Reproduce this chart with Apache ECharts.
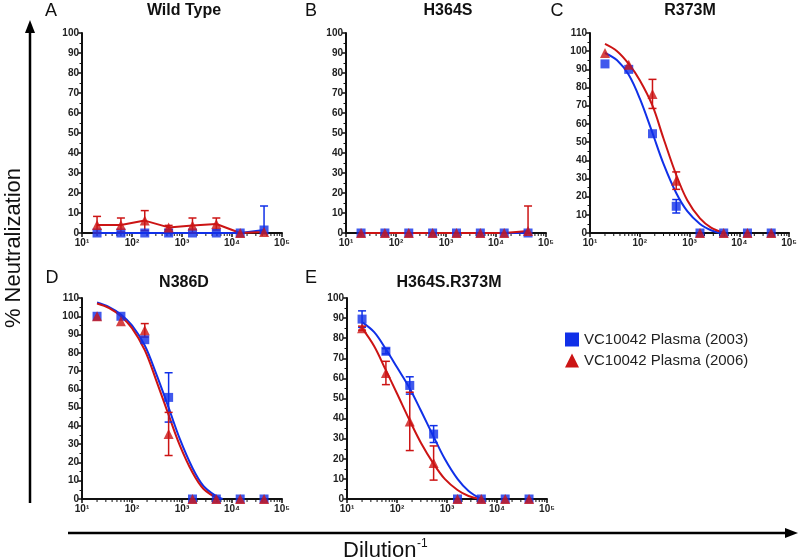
<!DOCTYPE html>
<html><head><meta charset="utf-8">
<script src="https://cdn.jsdelivr.net/npm/echarts@6/dist/echarts.min.js"></script>
<style>html,body{margin:0;padding:0;background:#fff}#c{width:800px;height:560px}</style>
</head><body><div id="c"></div>
<script>
// ---------- DATA ----------
const dilutions = [20, 60, 180, 540, 1620, 4860, 14580, 43740];
const seriesNames = ['VC10042 Plasma (2003)', 'VC10042 Plasma (2006)'];
const panelTitles = ['Wild Type', 'H364S', 'R373M', 'N386D', 'H364S.R373M'];
const panelLetters = ['A', 'B', 'C', 'D', 'E'];
const panelYMax = [100, 100, 110, 110, 100];
const xTickLabels = {10: '10¹', 100: '10²', 1000: '10³', 10000: '10⁴', 100000: '10⁵'};
const xMinorTicks = [20, 30, 40, 50, 60, 70, 80, 90,
  200, 300, 400, 500, 600, 700, 800, 900,
  2000, 3000, 4000, 5000, 6000, 7000, 8000, 9000,
  20000, 30000, 40000, 50000, 60000, 70000, 80000, 90000];

// Wild Type
const wt2003 = [0, 0, 0, 0, 0, 0, 0, 1.5];
const wt2003Err = [0, 0, 0, 0, 0, 0, 0, 12];
const wt2006 = [4, 4, 6.2, 2.8, 3.8, 4.5, 0, 0.5];
const wt2006Err = [4.3, 3.5, 5, 1, 3.7, 3, 0, 0];
// H364S
const h364s2003 = [0, 0, 0, 0, 0, 0, 0, 0];
const h364s2003Err = [0, 0, 0, 0, 0, 0, 0, 0];
const h364s2006 = [0, 0, 0, 0, 0, 0, 0, 1];
const h364s2006Err = [0, 0, 0, 0, 0, 0, 0, 12.5];
// R373M
const r373m2003 = [93, 90, 54.6, 14.7, 0, 0, 0, 0];
const r373m2003Err = [0, 0, 0, 3.7, 0, 0, 0, 0];
const r373m2006 = [99, 92.6, 76.5, 28.8, 0, 0, 0, 0];
const r373m2006Err = [0, 0, 8, 4.8, 0, 0, 0, 0];
// N386D
const n386d2003 = [100, 100, 87.2, 55.6, 0, 0, 0, 0];
const n386d2003Err = [0, 0, 0, 13.5, 0, 0, 0, 0];
const n386d2006 = [100, 97.3, 92.3, 35.6, 0, 0, 0, 0];
const n386d2006Err = [0, 0, 3.7, 11.8, 0, 0, 0, 0];
// H364S.R373M
const dbl2003 = [89.5, 73.5, 56.5, 32.3, 0, 0, 0, 0];
const dbl2003Err = [4.1, 1.3, 4.3, 4.2, 0, 0, 0, 0];
const dbl2006 = [85, 62.7, 38.6, 17.9, 0, 0, 0, 0];
const dbl2006Err = [1, 5.8, 14.5, 8.5, 0, 0, 0, 0];

// Fitted curves
const r373mFit2003X = [20, 35, 60, 100, 180, 300, 540, 900, 1620, 2700, 4000];
const r373mFit2003Y = [99, 95, 87, 74, 55, 38, 22, 12, 5, 1.5, 0];
const r373mFit2006X = [20, 35, 60, 100, 180, 300, 540, 900, 1620, 2700, 5000];
const r373mFit2006Y = [104, 100, 93, 84, 70, 52, 32, 18, 8, 3, 0];
const n386dFit2003X = [20, 35, 60, 100, 180, 300, 540, 900, 1620, 2700, 4860, 6500];
const n386dFit2003Y = [107.5, 105, 101, 95, 84, 69, 50, 33, 17, 7, 1.5, 0];
const n386dFit2006X = [20, 35, 60, 100, 180, 300, 540, 900, 1620, 2700, 5400];
const n386dFit2006Y = [107, 104.5, 100, 93.5, 81.5, 65.5, 46, 29.5, 14.5, 5.5, 0];
const dblFit2003X = [20, 35, 60, 100, 180, 300, 540, 900, 1620, 2700, 4860];
const dblFit2003Y = [88, 83, 74.5, 65.5, 55, 44, 31, 20, 10, 4, 0];
const dblFit2006X = [20, 35, 60, 100, 180, 300, 540, 900, 1620, 2700, 4500];
const dblFit2006Y = [85, 76, 64, 52.5, 39, 28, 17.5, 10, 4.5, 1.5, 0];

const panelData = [
  {b: wt2003, be: wt2003Err, r: wt2006, re: wt2006Err, fit: null},
  {b: h364s2003, be: h364s2003Err, r: h364s2006, re: h364s2006Err, fit: null},
  {b: r373m2003, be: r373m2003Err, r: r373m2006, re: r373m2006Err,
   fit: [[r373mFit2003X, r373mFit2003Y], [r373mFit2006X, r373mFit2006Y]]},
  {b: n386d2003, be: n386d2003Err, r: n386d2006, re: n386d2006Err,
   fit: [[n386dFit2003X, n386dFit2003Y], [n386dFit2006X, n386dFit2006Y]]},
  {b: dbl2003, be: dbl2003Err, r: dbl2006, re: dbl2006Err,
   fit: [[dblFit2003X, dblFit2003Y], [dblFit2006X, dblFit2006Y]]}
];

// ---------- LAYOUT / STYLE ----------
const BLUE = '#1030e8', RED = '#cc1414';
const layout = [
  {left: 82, top: 33, width: 200, height: 200, tx: 184, ty: 11, lx: 51, ly: 11},
  {left: 346, top: 33, width: 200, height: 200, tx: 448, ty: 11, lx: 311, ly: 11},
  {left: 590, top: 33, width: 200, height: 200, tx: 690, ty: 11, lx: 557, ly: 11},
  {left: 82, top: 298, width: 200, height: 201, tx: 184, ty: 283, lx: 52, ly: 278},
  {left: 347, top: 298, width: 200, height: 201, tx: 449, ty: 283, lx: 311, ly: 278}
];
const FONT = '"Liberation Sans", Arial, sans-serif';

const grids = [], xAxes = [], yAxes = [], series = [], graphics = [];
layout.forEach((L, i) => {
  grids.push({left: L.left, top: L.top, width: L.width, height: L.height, containLabel: false});
  xAxes.push({
    type: 'log', logBase: 10, min: 10, max: 100000, gridIndex: i,
    axisLine: {show: true, onZero: false, lineStyle: {color: '#111', width: 2}},
    axisTick: {show: true, length: 4, lineStyle: {color: '#111', width: 1.5}},
    minorTick: {show: false},
    splitLine: {show: false},
    axisLabel: {fontFamily: FONT, fontWeight: 'bold', fontSize: 10, color: '#222', margin: 5,
      formatter: v => xTickLabels[Math.round(v)] || ''}
  });
  yAxes.push({
    type: 'value', min: 0, max: panelYMax[i], interval: 10, gridIndex: i,
    axisLine: {show: true, lineStyle: {color: '#111', width: 2}},
    axisTick: {show: true, length: 4, lineStyle: {color: '#111', width: 1.5}},
    minorTick: {show: true, splitNumber: 2, length: 2.5, lineStyle: {color: '#111', width: 1}},
    splitLine: {show: false},
    axisLabel: {fontFamily: FONT, fontWeight: 'bold', fontSize: 10, color: '#222', margin: 3}
  });
  const P = panelData[i];
  const pairs = (xs, ys) => xs.map((x, k) => [x, ys[k]]);
  // log minor ticks
  series.push({type: 'custom', xAxisIndex: i, yAxisIndex: i, silent: true, clip: false, z: 1,
    data: xMinorTicks.map(v => [v, 0]),
    renderItem: (params, api) => {
      const p = api.coord([api.value(0), 0]);
      return {type: 'line', shape: {x1: p[0], y1: p[1], x2: p[0], y2: p[1] + 3}, style: {stroke: '#111', lineWidth: 1}};
    }});
  if (P.fit) {
    series.push({type: 'line', name: seriesNames[0], xAxisIndex: i, yAxisIndex: i, data: pairs(P.fit[0][0], P.fit[0][1]),
      showSymbol: false, symbol: 'none', smooth: 0.35, lineStyle: {color: BLUE, width: 2}, itemStyle: {color: BLUE}, z: 2, silent: true});
    series.push({type: 'line', name: seriesNames[1], xAxisIndex: i, yAxisIndex: i, data: pairs(P.fit[1][0], P.fit[1][1]),
      showSymbol: false, symbol: 'none', smooth: 0.35, lineStyle: {color: RED, width: 2}, itemStyle: {color: RED}, z: 2, silent: true});
  } else {
    series.push({type: 'line', name: seriesNames[0], xAxisIndex: i, yAxisIndex: i, data: pairs(dilutions, P.b),
      showSymbol: false, symbol: 'none', lineStyle: {color: BLUE, width: 2}, itemStyle: {color: BLUE}, z: 2, silent: true});
    series.push({type: 'line', name: seriesNames[1], xAxisIndex: i, yAxisIndex: i, data: pairs(dilutions, P.r),
      showSymbol: false, symbol: 'none', lineStyle: {color: RED, width: 2}, itemStyle: {color: RED}, z: 2, silent: true});
  }
  const errSeries = (vals, errs, color) => ({
    type: 'custom', xAxisIndex: i, yAxisIndex: i, z: 3, silent: true, clip: false,
    data: dilutions.map((d, k) => [d, vals[k], errs[k]]),
    renderItem: (params, api) => {
      const x = api.value(0), y = api.value(1), e = api.value(2);
      if (!e) return null;
      const t = api.coord([x, y + e]), b = api.coord([x, Math.max(0, y - e)]);
      const hw = 4, st = {stroke: color, lineWidth: 1.5};
      return {type: 'group', children: [
        {type: 'line', shape: {x1: t[0], y1: t[1], x2: b[0], y2: b[1]}, style: st},
        {type: 'line', shape: {x1: t[0] - hw, y1: t[1], x2: t[0] + hw, y2: t[1]}, style: st},
        {type: 'line', shape: {x1: b[0] - hw, y1: b[1], x2: b[0] + hw, y2: b[1]}, style: st}
      ]};
    }
  });
  series.push(errSeries(P.b, P.be, BLUE));
  series.push(errSeries(P.r, P.re, RED));
  series.push({type: 'scatter', name: seriesNames[0], xAxisIndex: i, yAxisIndex: i, data: pairs(dilutions, P.b),
    symbol: 'rect', symbolSize: 9, itemStyle: {color: BLUE}, z: 4, silent: true});
  series.push({type: 'scatter', name: seriesNames[1], xAxisIndex: i, yAxisIndex: i, data: pairs(dilutions, P.r),
    symbol: 'triangle', symbolSize: 10, itemStyle: {color: RED}, z: 5, silent: true});

  graphics.push({type: 'text', x: L.tx, y: L.ty, style: {text: panelTitles[i], font: 'bold 16px ' + FONT, fill: '#111', textAlign: 'center', textVerticalAlign: 'middle'}});
  graphics.push({type: 'text', x: L.lx, y: L.ly, style: {text: panelLetters[i], font: '18px ' + FONT, fill: '#111', textAlign: 'center', textVerticalAlign: 'middle'}});
});

// Big axis arrows and titles
graphics.push({type: 'line', shape: {x1: 30, y1: 503, x2: 30, y2: 30}, style: {stroke: '#000', lineWidth: 2.5}});
graphics.push({type: 'polygon', shape: {points: [[30, 20], [25, 33], [35, 33]]}, style: {fill: '#000'}});
graphics.push({type: 'line', shape: {x1: 68, y1: 533, x2: 788, y2: 533}, style: {stroke: '#000', lineWidth: 2.5}});
graphics.push({type: 'polygon', shape: {points: [[798, 533], [785, 528], [785, 538]]}, style: {fill: '#000'}});
graphics.push({type: 'text', x: 14, y: 248, rotation: Math.PI / 2,
  style: {text: '% Neutralization', font: '22px ' + FONT, fill: '#111', textAlign: 'center', textVerticalAlign: 'middle'}});
graphics.push({type: 'text', x: 343, y: 551, style: {text: 'Dilution', font: '22px ' + FONT, fill: '#111', textAlign: 'left', textVerticalAlign: 'middle'}});
graphics.push({type: 'text', x: 417, y: 544, style: {text: '-1', font: '12px ' + FONT, fill: '#111', textAlign: 'left', textVerticalAlign: 'middle'}});

const chart = echarts.init(document.getElementById('c'), null, {renderer: 'canvas'});
chart.setOption({
  animation: false,
  backgroundColor: '#fff',
  grid: grids, xAxis: xAxes, yAxis: yAxes, series: series,
  legend: {
    orient: 'vertical', left: 560, top: 327, itemGap: 6, itemWidth: 14, itemHeight: 14,
    selectedMode: false,
    textStyle: {fontFamily: FONT, fontSize: 15, color: '#222'},
    data: [{name: seriesNames[0], icon: 'rect', itemStyle: {color: BLUE}}, {name: seriesNames[1], icon: 'triangle', itemStyle: {color: RED}}]
  },
  graphic: graphics
});
</script></body></html>
